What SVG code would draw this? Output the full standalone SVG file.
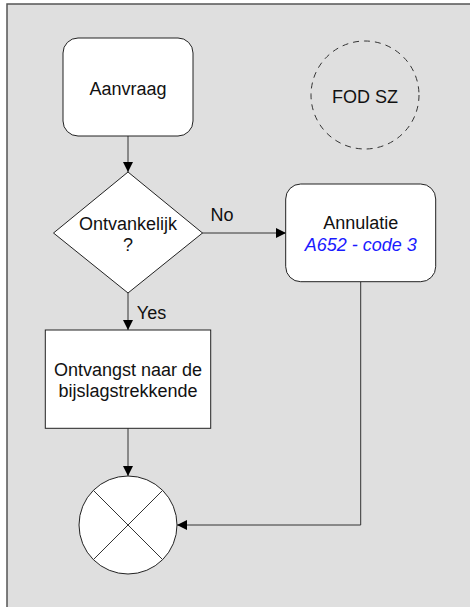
<svg xmlns="http://www.w3.org/2000/svg" width="470" height="607" viewBox="0 0 470 607">
<defs>
<style>
.node{fill:#ffffff;stroke:#222222;stroke-width:1}
.lbl{font-family:"Liberation Sans",Arial,sans-serif;font-size:18px;fill:#111111;text-anchor:middle}
.edge{fill:none;stroke:#333333;stroke-width:1}
</style>
<marker id="arr" viewBox="0 0 10 10" refX="10" refY="5" markerWidth="10" markerHeight="10" markerUnits="userSpaceOnUse" orient="auto">
<path d="M0,0 L10,5 L0,10 Z" fill="#000000"/>
</marker>
</defs>
<rect x="0" y="0" width="470" height="607" fill="#ffffff"/>
<rect id="frame" x="7" y="4" width="480" height="620" fill="#dfdfdf" stroke="#555555" stroke-width="1.5"/>
<g id="connectors">
<line class="edge" x1="128" y1="136" x2="128" y2="172" marker-end="url(#arr)"/>
<line class="edge" x1="202" y1="233" x2="286" y2="233" marker-end="url(#arr)"/>
<line class="edge" x1="128" y1="293" x2="128" y2="330" marker-end="url(#arr)"/>
<line class="edge" x1="128" y1="428" x2="128" y2="476" marker-end="url(#arr)"/>
<polyline class="edge" points="360.7,282 360.7,525 177,525" marker-end="url(#arr)"/>
<text class="lbl" x="222" y="220.5">No</text>
<text class="lbl" x="151.5" y="319">Yes</text>
</g>
<g id="aanvraag">
<rect class="node" x="63" y="38" width="130" height="98" rx="15"/>
<text class="lbl" x="128" y="95">Aanvraag</text>
</g>
<g id="fodsz">
<circle cx="365" cy="95" r="54" fill="none" stroke="#333333" stroke-width="1" stroke-dasharray="6,5"/>
<text class="lbl" x="365" y="102.7">FOD SZ</text>
</g>
<g id="ontvankelijk">
<polygon class="node" points="128,172 202.5,233 128,293 53.5,233"/>
<text class="lbl" x="128" y="230">Ontvankelijk</text>
<text class="lbl" x="128" y="251">?</text>
</g>
<g id="annulatie">
<rect class="node" x="285.7" y="184" width="150" height="97.7" rx="15"/>
<text class="lbl" x="360.7" y="229">Annulatie</text>
<text class="lbl" x="360.7" y="250.5" style="fill:#1a1aff;font-style:italic">A652 - code 3</text>
</g>
<g id="ontvangst">
<rect class="node" x="45.3" y="330" width="165.4" height="98.3"/>
<text class="lbl" x="128" y="375.5">Ontvangst naar de</text>
<text class="lbl" x="128" y="396.5">bijslagstrekkende</text>
</g>
<g id="einde">
<circle class="node" cx="128" cy="525" r="49"/>
<line class="edge" x1="93.4" y1="490.4" x2="162.6" y2="559.6"/>
<line class="edge" x1="162.6" y1="490.4" x2="93.4" y2="559.6"/>
</g>
</svg>
